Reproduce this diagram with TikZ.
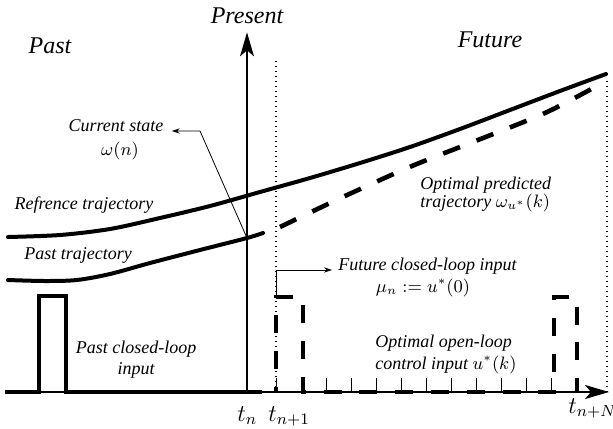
\documentclass[tikz,border=0pt]{standalone}
\usepackage[no-math]{fontspec}
\setmainfont{Liberation Serif}
\usetikzlibrary{arrows.meta,positioning}

\tikzset{
  lbl/.style={font=\small\itshape, inner sep=0pt},
  biglbl/.style={font=\large\itshape, inner sep=0pt},
  tlbl/.style={font=\large, inner sep=0pt, anchor=base west},
  axis/.style={line width=0.6pt, -{Stealth[length=12pt,width=7pt,inset=3pt]}},
  traj/.style={line width=2pt, line cap=round, line join=round},
  dtraj/.style={line width=2.3pt, dash pattern=on 9pt off 8.9pt},
  ptr/.style={line width=0.4pt, -{Stealth[length=4pt,width=2.6pt]}},
  dots/.style={line width=0.6pt, dash pattern=on 0.6pt off 1.9pt},
  tickmark/.style={line width=0.5pt},
}

\begin{document}
\begin{tikzpicture}[x=0.5pt,y=-0.5pt]
  \useasboundingbox (0,0) rectangle (613,428);

  % time instants on the axis
  \coordinate (o)    at (5,392);
  \coordinate (tn)   at (247,392);
  \coordinate (tn1)  at (276,392);
  \coordinate (tnN)  at (607,392);
  \coordinate (xend) at (609,392);

  % headings
  \node[biglbl] (present) at (247,16) {Present};
  \node[biglbl] (past)    at (50,46)  {Past};
  \node[biglbl] (future)  at (490,40) {Future};

  % axes, horizon lines and sampling ticks
  \draw[axis] (o) -- (xend);
  \draw[axis] (tn) -- ([yshift=-4pt]present.south);
  \draw[dots] (tn1) -- (276,60);
  \draw[dots] (tnN) -- (607,78);
  \foreach \k in {0,...,12}
    \draw[tickmark] (276+25.08*\k,392) -- ++(0,-14);

  \node[tlbl] (tnl)  at (237,421) {$t_n$};
  \node[tlbl] (tn1l) at (268,421) {$t_{n+1}$};
  \node[tlbl] (tnNl) at (568,413) {$t_{n+N}$};

  % reference, past and predicted trajectories
  \draw[traj] plot[smooth] coordinates {(8,237) (60,235) (110,229) (160,218) (210,206)
    (260,192) (310,178) (360,163) (410,147) (460,129) (510,110) (560,91) (606,74)};
  \draw[traj] plot[smooth] coordinates {(8,280) (45,281) (77,280) (110,274) (150,263)
    (200,250) (247,238) (263,233)};
  \coordinate (now) at (247,238);
  \draw[dtraj] plot[smooth] coordinates {(280,227) (345,196) (412,166) (478,140)
    (545,113) (595,87)};

  % inputs
  \draw[traj, line cap=butt, line join=miter] (o) -- (39,392) -- (39,296) -- (66,296)
    -- (66,392) -- (262,392);
  \coordinate (u0) at (276,297);
  \draw[dtraj, dash phase=6.5pt] (tn1) -- (u0) -- (303,297) -- (303,392) -- (554,392)
    -- (554,297) -- (577,297) -- (577,392);

  % labels
  \node[lbl, anchor=base] (reftxt)  at (84,209) {Refrence trajectory};
  \node[lbl, anchor=base] (pasttxt) at (78,259) {Past trajectory};
  \node[lbl, anchor=base] (curstate) at (116,131) {Current state};
  \node[lbl, below=5pt of curstate, xshift=2pt] (curval) {$\omega(n)$};
  \node[lbl, anchor=base west] (predtxt) at (420,189) {Optimal predicted};
  \node[lbl, anchor=base west] (predval) at (420,207) {trajectory $\omega_{u^*}(k)$};
  \node[lbl, anchor=base west] (futtxt) at (338,270) {Future closed-loop input};
  \node[lbl, anchor=base] (futval) at (423,292) {$\mu_n := u^*(0)$};
  \node[lbl, anchor=base] (pastin)  at (136,353) {Past closed-loop};
  \node[lbl, anchor=base] (pastin2) at (136,374) {input};
  \node[lbl, anchor=base west] (optin)  at (375,347) {Optimal open-loop};
  \node[lbl, anchor=base west] (optin2) at (375,369) {control input $u^*(k)$};

  % pointers
  \coordinate (kink) at (200,131);
  \draw[ptr] (now) -- (kink) -- ([xshift=4pt]curstate.base east);
  \draw[ptr] (u0) |- ([xshift=-3pt]futtxt.base west);
\end{tikzpicture}
\end{document}
